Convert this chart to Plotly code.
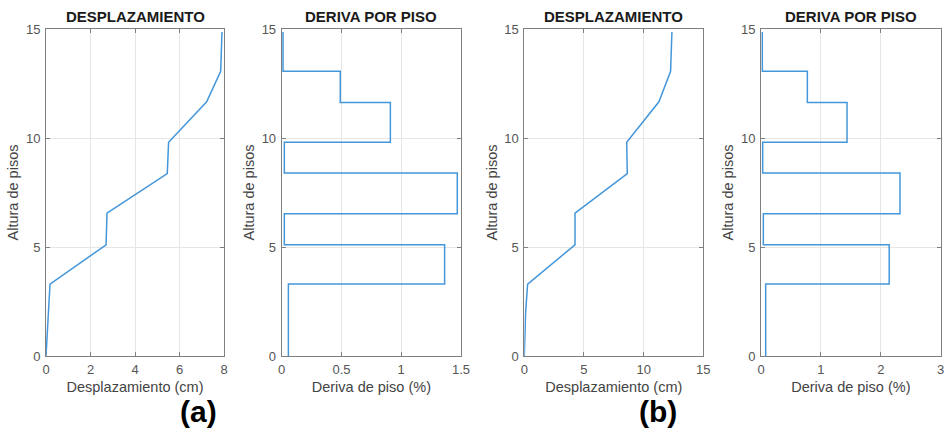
import plotly.graph_objects as go

# ---- data ----
alturas_desp = [0, 1.0, 2.0, 3.3, 5.1, 6.55, 8.37, 9.8, 11.66, 13.06, 14.86]
desp_a = [0, 0.05, 0.09, 0.18, 2.70, 2.74, 5.45, 5.51, 7.22, 7.85, 7.91]
desp_b = [0, 0.06, 0.11, 0.28, 4.25, 4.25, 8.63, 8.58, 11.28, 12.26, 12.37]

# storey limits for drift (stairs)
limites = [0, 3.3, 5.1, 6.52, 8.39, 9.8, 11.63, 13.06, 14.86]
deriva_a = [0.056, 1.363, 0.022, 1.469, 0.022, 0.909, 0.49, 0.011]
deriva_b = [0.078, 2.14, 0.039, 2.32, 0.028, 1.436, 0.774, 0.022]

x_ticks = [[0, 2, 4, 6, 8], [0, 0.5, 1, 1.5], [0, 5, 10, 15], [0, 1, 2, 3]]
x_ranges = [[0, 8], [0, 1.5], [0, 15], [0, 3]]
tick_text = [["0", "2", "4", "6", "8"], ["0", "0.5", "1", "1.5"],
             ["0", "5", "10", "15"], ["0", "1", "2", "3"]]
titulos = ["DESPLAZAMIENTO", "DERIVA POR PISO", "DESPLAZAMIENTO", "DERIVA POR PISO"]
x_titulos = ["Desplazamiento (cm)", "Deriva de piso (%)",
             "Desplazamiento (cm)", "Deriva de piso (%)"]
y_titulo = "Altura de pisos"
etiquetas = ["(a)", "(b)"]


def stairs(vals, lims):
    xs, ys = [], []
    for i, v in enumerate(vals):
        xs += [v, v]
        ys += [lims[i], lims[i + 1]]
    return xs, ys


LINE = "#4496da"
W = 945
H = 436
dom_x = [(46, 224), (281.7, 461), (524.3, 703.3), (761, 940.7)]
y_top, y_bot = 29, 356
dom_y = [(H - y_bot) / H, (H - y_top) / H]

fig = go.Figure()

series = [
    (desp_a, alturas_desp),
    stairs(deriva_a, limites),
    (desp_b, alturas_desp),
    stairs(deriva_b, limites),
]

font_family = "Liberation Sans, Arial, sans-serif"
annotations = []
for i, (xs, ys) in enumerate(series):
    n = i + 1
    xa = "x" if n == 1 else f"x{n}"
    ya = "y" if n == 1 else f"y{n}"
    fig.add_trace(go.Scatter(x=xs, y=ys, mode="lines",
                             line=dict(color=LINE, width=1.5),
                             xaxis=xa, yaxis=ya, showlegend=False,
                             hoverinfo="skip"))
    axis_common = dict(
        showline=True, linecolor="#7f7f7f", linewidth=1, mirror="ticks",
        ticks="inside", ticklen=4, tickcolor="#7f7f7f",
        showgrid=True, gridcolor="#e6e6e6", gridwidth=1,
        zeroline=False, automargin=False,
        tickfont=dict(family=font_family, size=13, color="#555555"),
    )
    xkey = "xaxis" if n == 1 else f"xaxis{n}"
    ykey = "yaxis" if n == 1 else f"yaxis{n}"
    fig.update_layout(**{
        xkey: dict(axis_common,
                   domain=[dom_x[i][0] / W, dom_x[i][1] / W],
                   range=x_ranges[i], tickvals=x_ticks[i], ticktext=tick_text[i],
                   anchor=ya, ticklabelstandoff=1,
                   title=dict(text=x_titulos[i], standoff=6,
                              font=dict(family=font_family, size=14.5, color="#444444"))),
        ykey: dict(axis_common,
                   domain=dom_y, range=[0, 15], tickvals=[0, 5, 10, 15],
                   anchor=xa, ticklabelstandoff=2,
                   title=dict(text=y_titulo, standoff=3,
                              font=dict(family=font_family, size=14.5, color="#444444"))),
    })
    annotations.append(dict(
        text="<b>" + titulos[i] + "</b>", x=(dom_x[i][0] + dom_x[i][1]) / 2 / W,
        y=(H - 16) / H, xref="paper", yref="paper", showarrow=False,
        xanchor="center", yanchor="middle",
        font=dict(family=font_family, size=15, color="#1a1a1a")))

annotations.append(dict(text="<b>" + etiquetas[0] + "</b>", x=198 / W, y=(H - 411) / H,
                        xref="paper", yref="paper", showarrow=False,
                        xanchor="center", yanchor="middle",
                        font=dict(family=font_family, size=30, color="black")))
annotations.append(dict(text="<b>" + etiquetas[1] + "</b>", x=658 / W, y=(H - 411) / H,
                        xref="paper", yref="paper", showarrow=False,
                        xanchor="center", yanchor="middle",
                        font=dict(family=font_family, size=30, color="black")))

fig.update_layout(width=W, height=H, margin=dict(l=0, r=0, t=0, b=0),
                  plot_bgcolor="white", paper_bgcolor="white",
                  annotations=annotations, hovermode=False)

fig.write_html("out.html", config={"displayModeBar": False, "staticPlot": True},
               post_script="document.body.style.margin='0';document.body.style.overflow='hidden';")
